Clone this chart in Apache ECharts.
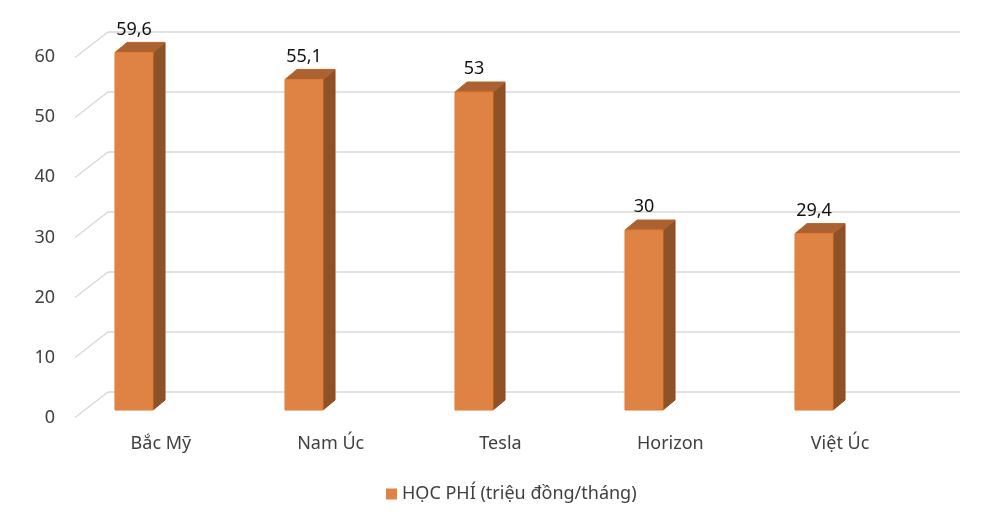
<!DOCTYPE html>
<html>
<head>
<meta charset="utf-8">
<script src="https://cdn.jsdelivr.net/npm/echarts@6/dist/echarts.min.js"></script>
<style>html,body{margin:0;padding:0;background:#fff}#c{width:1000px;height:527px}</style>
</head>
<body>
<div id="c"></div>
<script>
const categories = ['Bắc Mỹ', 'Nam Úc', 'Tesla', 'Horizon', 'Việt Úc'];
const values = [59.6, 55.1, 53, 30, 29.4];
const yTicks = [0, 10, 20, 30, 40, 50, 60];
const seriesName = 'HỌC PHÍ (triệu đồng/tháng)';

const FONT = '"Noto Sans", sans-serif';
const chart = echarts.init(document.getElementById('c'));
const fmt = v => String(v).replace('.', ',');

chart.setOption({
  animation: false,
  grid: [
    {left: 108, right: 40, top: 32, bottom: 135},
    {left: 49, right: 101, top: 50, bottom: 117},
    {left: 76, right: 75, top: 57, bottom: 109}
  ],
  xAxis: [
    {gridIndex: 0, type: 'category', data: categories, show: false},
    {gridIndex: 1, type: 'category', data: categories, show: false},
    {gridIndex: 2, type: 'category', data: categories, axisLine: {show: false}, axisTick: {show: false},
     axisLabel: {margin: 17, fontSize: 18, color: '#404040', fontFamily: FONT}}
  ],
  yAxis: [
    {gridIndex: 0, type: 'value', min: 0, max: 60, interval: 10, axisLabel: {show: false},
     axisLine: {show: false}, axisTick: {show: false},
     splitLine: {lineStyle: {color: '#D9D9D9', width: 1.5}}},
    {gridIndex: 1, type: 'value', min: 0, max: 60, interval: 10, show: false, splitLine: {show: false}},
    {gridIndex: 2, type: 'value', min: 0, max: 60, interval: 10, data: yTicks,
     axisLine: {show: false}, axisTick: {show: false}, splitLine: {show: false},
     axisLabel: {margin: 21, fontSize: 18, color: '#404040', fontFamily: FONT}}
  ],
  legend: {
    bottom: 19, left: 381, itemWidth: 11, itemHeight: 11, itemGap: 6,
    textStyle: {fontSize: 18, color: '#404040', fontFamily: FONT},
    data: [{name: seriesName, icon: 'rect', itemStyle: {color: '#DF8344'}}]
  },
  series: [
    {
      type: 'custom', name: 'diag', xAxisIndex: 0, yAxisIndex: 0, silent: true,
      data: yTicks.map(v => [0, v]),
      renderItem: function (params, api) {
        const cs = params.coordSys;
        const y = api.coord([0, api.value(1)])[1];
        return {type: 'line', shape: {x1: cs.x - 33, y1: y + 25.5, x2: cs.x, y2: y},
                style: {stroke: '#D9D9D9', lineWidth: 1.5}};
      }
    },
    {
      type: 'custom', name: seriesName, xAxisIndex: 1, yAxisIndex: 1,
      itemStyle: {color: '#DF8344'},
      data: values.map((v, i) => [i, v]),
      renderItem: function (params, api) {
        const top = api.coord([api.value(0), api.value(1)]);
        const base = api.coord([api.value(0), 0]);
        const x = top[0], hw = 19, dx = 12, dy = -10;
        const yt = top[1], yb = base[1];
        return {
          type: 'group',
          children: [
            {type: 'polygon', shape: {points: [[x + hw, yt], [x + hw + dx, yt + dy], [x + hw + dx, yb + dy], [x + hw, yb]]},
             style: {fill: '#8E5229', stroke: '#9A3F12', lineWidth: 1}},
            {type: 'polygon', shape: {points: [[x - hw, yt], [x - hw + dx, yt + dy], [x + hw + dx, yt + dy], [x + hw, yt]]},
             style: {fill: '#AA6232', stroke: '#B8642A', lineWidth: 1}},
            {type: 'rect', shape: {x: x - hw, y: yt, width: 2 * hw, height: yb - yt},
             style: {fill: '#DF8344', stroke: '#E27B2E', lineWidth: 1}},
            {type: 'text', style: {text: fmt(api.value(1)), x: x, y: yt - 23, align: 'center', verticalAlign: 'middle',
             fontSize: 18, fontFamily: FONT, fill: '#111'}}
          ]
        };
      }
    }
  ]
});
</script>
</body>
</html>
